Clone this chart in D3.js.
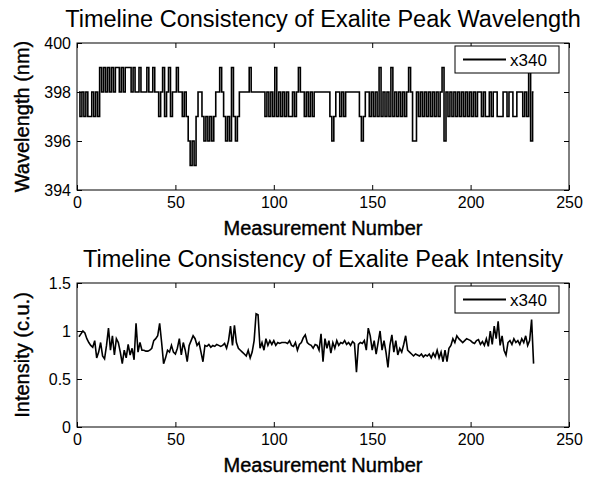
<!DOCTYPE html>
<html>
<head>
<meta charset="utf-8">
<script src="https://cdn.jsdelivr.net/npm/d3@7"></script>
<style>
  body { margin: 0; background: #fff; }
  svg { display: block; font-family: "Liberation Sans", Arial, sans-serif; }
</style>
</head>
<body>
<svg id="chart" width="601" height="481"></svg>
<script>
const wavelength = [
  398,397,398,397,398,397,397,398,397,398,397,399,398,399,398,399,398,399,398,399,
  399,398,399,398,399,399,399,398,399,398,398,399,398,398,398,399,398,398,399,398,
  398,397,398,399,397,398,399,397,398,398,399,398,398,397,398,397,396,395,396,395,
  397,398,398,397,396,397,396,397,396,397,398,398,399,398,397,396,397,396,399,397,
  396,397,398,398,398,398,398,399,398,398,398,398,398,398,398,397,398,397,398,397,
  399,397,398,397,398,397,398,397,397,398,397,398,399,398,398,397,398,397,398,397,
  398,398,398,398,398,398,398,398,397,396,397,398,398,397,398,397,398,398,398,398,
  398,398,398,397,396,397,398,398,397,398,397,398,397,399,397,398,397,398,397,399,
  397,398,397,398,397,398,397,398,399,398,396,396,398,397,398,397,398,397,398,397,
  398,397,398,397,398,399,396,398,397,398,397,398,397,398,397,398,397,398,397,398,
  397,398,397,398,398,397,398,397,397,398,397,398,398,397,397,397,398,398,397,398,
  398,397,397,398,398,398,397,398,397,399,396,398
];

// peak intensity (c.u.)
const intensity = [
  0.94,0.97,1.00,0.98,0.92,0.88,0.85,0.83,0.90,0.72,0.78,0.88,0.74,0.71,0.85,1.03,0.80,0.95,0.75,0.92,
  0.88,0.78,0.66,0.80,0.72,0.86,0.75,0.82,0.70,1.08,0.78,0.88,0.80,0.80,0.79,0.79,0.80,0.82,0.90,0.92,
  0.95,1.08,0.88,0.66,0.72,0.80,0.78,0.85,0.78,0.76,0.82,0.92,0.75,0.88,0.80,0.68,0.85,0.90,0.95,0.92,
  0.85,0.88,0.78,0.68,0.85,0.84,0.86,0.83,0.85,0.84,0.86,0.85,0.84,0.85,0.87,0.82,0.90,1.05,0.85,1.06,
  0.88,0.82,0.80,0.78,0.76,0.74,0.80,0.72,0.78,0.90,1.18,1.17,0.82,0.88,0.80,0.92,0.85,0.90,0.86,0.90,
  0.85,0.88,0.87,0.88,0.88,0.88,0.87,0.90,0.85,0.84,0.88,0.80,0.86,0.88,0.93,0.96,0.88,0.86,0.85,0.82,
  0.86,0.85,0.80,0.97,0.68,0.92,0.82,0.90,0.77,0.88,0.82,0.90,0.85,0.88,0.87,0.90,0.86,0.88,0.85,0.89,
  0.87,0.57,0.86,0.88,0.87,0.90,0.80,1.03,0.95,0.80,0.90,0.76,0.88,1.00,0.80,0.90,0.78,0.62,0.85,0.96,
  0.78,0.90,0.75,0.82,0.78,0.86,0.95,0.80,0.78,0.76,0.74,0.76,0.75,0.74,0.76,0.73,0.75,0.74,0.76,0.72,
  0.77,0.73,0.80,0.72,0.78,0.68,0.80,0.68,0.82,0.85,0.92,0.88,0.95,0.92,0.90,0.88,0.90,0.92,0.91,0.90,
  0.88,0.87,0.90,0.91,0.86,0.89,0.85,0.92,0.84,1.00,0.86,1.05,0.92,1.10,0.85,0.95,0.80,0.75,0.88,0.90,
  0.86,0.92,0.88,0.90,0.86,0.92,0.88,0.95,0.85,0.90,1.12,0.66
];

const xTicks = [0, 50, 100, 150, 200, 250];
const wlTicks = [394, 396, 398, 400];
const intTicks = [0, 0.5, 1, 1.5];
const legendLabel = "x340";

const svg = d3.select("#chart");

const panels = [
  {
    title: "Timeline Consistency of Exalite Peak Wavelength",
    ylabel: "Wavelength (nm)",
    data: wavelength,
    domain: [394, 400],
    ticks: wlTicks,
    curve: d3.curveStep,
    top: 43, bottom: 190
  },
  {
    title: "Timeline Consistency of Exalite Peak Intensity",
    ylabel: "Intensity (c.u.)",
    data: intensity,
    domain: [0, 1.5],
    ticks: intTicks,
    curve: d3.curveLinear,
    top: 283, bottom: 427
  }
];

const left = 77, right = 569, tickLen = 5;
const font = "Liberation Sans, Arial, sans-serif";

panels.forEach(p => {
  const x = d3.scaleLinear().domain([0, 250]).range([left, right]);
  const y = d3.scaleLinear().domain(p.domain).range([p.bottom, p.top]);
  const g = svg.append("g");

  const line = d3.line()
    .curve(p.curve)
    .x((d, i) => x(i + 1))
    .y(d => y(d));

  g.append("path")
    .datum(p.data)
    .attr("fill", "none")
    .attr("stroke", "#000")
    .attr("stroke-width", 1.6)
    .attr("d", line);

  // box
  g.append("rect")
    .attr("x", left).attr("y", p.top)
    .attr("width", right - left).attr("height", p.bottom - p.top)
    .attr("fill", "none").attr("stroke", "#000").attr("stroke-width", 1);

  // inward ticks, all four sides
  g.append("g").attr("transform", `translate(0,${p.bottom})`)
    .call(d3.axisBottom(x).tickValues(xTicks).tickSizeInner(-tickLen).tickSizeOuter(0).tickPadding(7))
    .call(a => a.select(".domain").remove())
    .call(a => a.selectAll("text").attr("font-size", 16).attr("font-family", font));
  g.append("g").attr("transform", `translate(0,${p.top})`)
    .call(d3.axisTop(x).tickValues(xTicks).tickSizeInner(-tickLen).tickSizeOuter(0).tickFormat(""))
    .call(a => a.select(".domain").remove());
  g.append("g").attr("transform", `translate(${left},0)`)
    .call(d3.axisLeft(y).tickValues(p.ticks).tickFormat(d => String(d))
      .tickSizeInner(-tickLen).tickSizeOuter(0).tickPadding(6))
    .call(a => a.select(".domain").remove())
    .call(a => a.selectAll("text").attr("font-size", 16).attr("font-family", font));
  g.append("g").attr("transform", `translate(${right},0)`)
    .call(d3.axisRight(y).tickValues(p.ticks).tickSizeInner(-tickLen).tickSizeOuter(0).tickFormat(""))
    .call(a => a.select(".domain").remove());

  // title
  g.append("text")
    .attr("x", (left + right) / 2).attr("y", p.top - 16)
    .attr("text-anchor", "middle")
    .attr("font-size", 23.5)
    .text(p.title);

  // x label
  g.append("text")
    .attr("x", (left + right) / 2).attr("y", p.bottom + 45)
    .attr("text-anchor", "middle")
    .attr("font-size", 20)
    .attr("stroke", "#000").attr("stroke-width", 0.4)
    .text("Measurement Number");

  // y label
  g.append("text")
    .attr("transform", `translate(29,${(p.top + p.bottom) / 2}) rotate(-90)`)
    .attr("text-anchor", "middle")
    .attr("font-size", 20)
    .attr("stroke", "#000").attr("stroke-width", 0.4)
    .text(p.ylabel);

  // legend
  const lg = g.append("g").attr("transform", `translate(455,${p.top + 3})`);
  lg.append("rect").attr("width", 104).attr("height", 27)
    .attr("fill", "#fff").attr("stroke", "#000");
  lg.append("line").attr("x1", 8).attr("x2", 51).attr("y1", 13.5).attr("y2", 13.5)
    .attr("stroke", "#000").attr("stroke-width", 2);
  lg.append("text").attr("x", 55).attr("y", 20)
    .attr("font-size", 17).text(legendLabel);
});
</script>
</body>
</html>
